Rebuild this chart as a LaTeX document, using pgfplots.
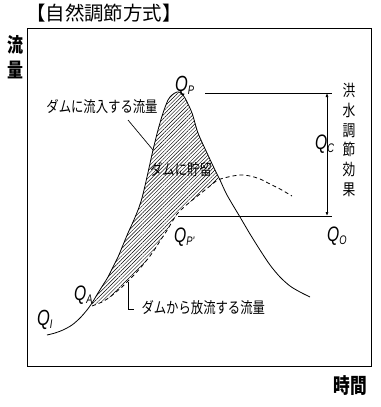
\documentclass[border=0pt]{standalone}
\usepackage{pgfplots}
\pgfplotsset{compat=1.18}
\usetikzlibrary{patterns,patterns.meta,arrows.meta}
\usepackage{fontspec}
\newfontfamily\jp{Noto Sans CJK JP}[FakeStretch=0.8]
\newfontfamily\jpw{Noto Sans CJK JP}
\newfontfamily\qf{Liberation Sans}[FakeStretch=0.75]
\newcommand{\Q}[1]{{\qf\itshape Q\raisebox{-3.5bp}{\fontsize{12.5}{12}\selectfont #1}}}
\begin{document}
\begin{tikzpicture}
\path[use as bounding box] (0,0) rectangle (381bp,407bp);
\begin{axis}[
  at={(27bp,41bp)}, anchor=south west,
  scale only axis, width=344bp, height=338bp,
  xmin=27, xmax=371, ymin=28, ymax=366, y dir=reverse,
  xtick=\empty, ytick=\empty,
  axis line style={line width=0.9bp},
  clip=false,
]
\addplot[draw=none, pattern={Lines[angle=45,distance=2.6bp,line width=0.45bp]}] coordinates {
(92,304) (98,293)
(103,285) (108,277) (113,267) (118,257) (123,245) (128,233) (133,222)
(138,210) (142,198) (147,177) (150,163) (153,150) (158,130) (163,113) (168,100)
(172,95) (177,92) (181,93) (185,98) (192,113) (198,133) (207,153)
(215,170) (219,179)
(210,186) (200,194) (190,202) (183,208) (177,214) (172,222) (166,232)
(160,241) (155,249) (150,256) (142,266) (135,274) (128,281) (122,287)
(116,292) (110,297) (102,302) (92,306)} -- cycle;
\addplot[black, line width=0.8bp, smooth] coordinates {
(47,335) (55,333) (63,330) (72,325) (80,318) (87,310) (92,303) (98,293)
(103,285) (108,277) (113,267) (118,257) (123,245) (128,233) (133,222)
(138,210) (142,198) (147,177) (153,150) (158,130) (163,113) (168,100)
(172,95) (177,92) (181,93) (185,98) (192,113) (198,133) (207,153)
(215,170) (220,180) (227,195) (240,217) (250,234) (260,250) (270,265)
(280,277) (290,286) (300,292) (310,297)};
\addplot[black, line width=0.8bp, dash pattern=on 4bp off 3bp, smooth] coordinates {
(92,306) (102,302) (110,297) (116,292) (122,287) (128,281) (135,274)
(142,266) (150,256) (155,249) (160,241) (166,232) (172,222) (177,214)
(183,208) (190,202) (200,194) (210,186) (218,180) (228,177) (240,175)
(250,176) (260,179) (270,184) (280,189) (292,196)};
% level lines
\addplot[black, line width=0.9bp] coordinates {(205,93) (332,93)};
\addplot[black, line width=0.9bp] coordinates {(178,216) (332,216)};
\draw[line width=0.7bp, {Latex[length=4bp,width=3bp]}-{Latex[length=4bp,width=3bp]}]
  (axis cs:327,93) -- (axis cs:327,216);
% annotation lines
\draw[line width=0.7bp] (axis cs:128,120) -- (axis cs:153,150);
\draw[line width=0.7bp] (axis cs:128,282) -- (axis cs:128,309) -- (axis cs:134,309);
% labels
\node[font={\jp\fontsize{15.5}{16}\selectfont}] at (axis cs:102,107) {ダムに流入する流量};
\node[font={\jp\fontsize{15.5}{16}\selectfont}] at (axis cs:181,170) {ダムに貯留};
\node[font={\jp\fontsize{15.5}{16}\selectfont}, anchor=west] at (axis cs:138,308) {ダムから放流する流量};
\node[font={\fontsize{22}{22}\selectfont}, anchor=base west, inner sep=0pt] at (axis cs:175,91) {\Q{P}};
\node[font={\fontsize{21}{21}\selectfont}, anchor=base west, inner sep=0pt] at (axis cs:315,149) {\Q{C}};
\node[font={\fontsize{21}{21}\selectfont}, anchor=base west, inner sep=0pt] at (axis cs:327,241) {\Q{O}};
\node[font={\fontsize{21}{21}\selectfont}, anchor=base west, inner sep=0pt] at (axis cs:174,242) {\Q{P'}};
\node[font={\fontsize{21}{21}\selectfont}, anchor=base west, inner sep=0pt] at (axis cs:74,300) {\Q{A}};
\node[font={\fontsize{22}{22}\selectfont}, anchor=base west, inner sep=0pt] at (axis cs:37,325) {\Q{I}};
\node[font={\jp\fontsize{16}{20}\selectfont}, align=center, inner sep=0pt] at (axis cs:349,140)
  {洪\\水\\調\\節\\効\\果};
\node[font={\jpw\fontsize{19.5}{20}\selectfont}, anchor=west, inner sep=0pt] at (axis cs:26,13) {【自然調節方式】};
\node[font={\jp\bfseries\fontsize{20}{25}\selectfont}, align=center, inner sep=0pt] at (axis cs:15,57) {流\\量};
\node[font={\jp\bfseries\fontsize{21}{21}\selectfont}, inner sep=0pt] at (axis cs:350,386) {時間};
\end{axis}
\end{tikzpicture}
\end{document}
